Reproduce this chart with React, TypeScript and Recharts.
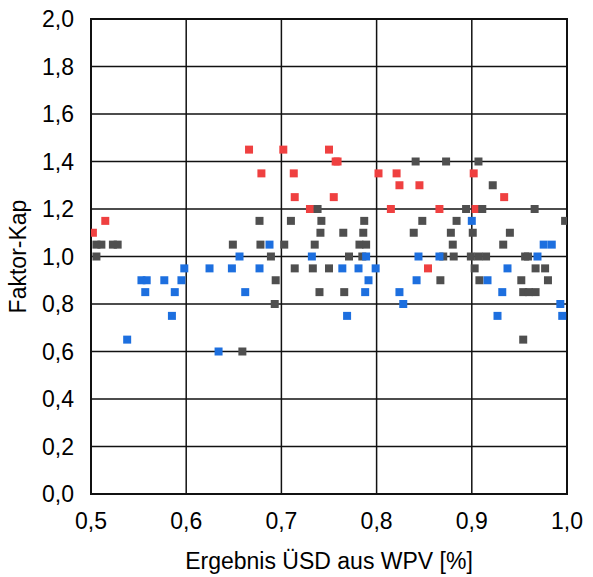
import {
  ScatterChart,
  Scatter,
  XAxis,
  YAxis,
  ZAxis,
  CartesianGrid,
  ReferenceArea,
} from "recharts";

// Faktor-Kap over Ergebnis ÜSD aus WPV, three groups
const redX = [0.502, 0.515, 0.666, 0.702, 0.75, 0.757, 0.759, 0.679, 0.713, 0.802, 0.821, 0.824, 0.845, 0.714, 0.755, 0.934, 0.73, 0.815, 0.866, 0.904, 0.902, 0.854];
const redY = [1.1, 1.15, 1.45, 1.45, 1.45, 1.4, 1.4, 1.35, 1.35, 1.35, 1.35, 1.3, 1.3, 1.25, 1.25, 1.25, 1.2, 1.2, 1.2, 1.2, 1.35, 0.95];

const grayX = [
  0.5057, 0.5109, 0.523, 0.528, 0.5057, 0.649, 0.659, 0.841, 0.873, 0.907, 0.738, 0.677, 0.71, 0.742, 0.787,
  0.741, 0.765, 0.786, 0.839, 0.678, 0.703, 0.735, 0.782, 0.789, 0.689, 0.771, 0.785, 0.714, 0.733, 0.75,
  0.694, 0.74, 0.766, 0.693, 0.922, 0.894, 0.911, 0.966, 0.848, 0.884, 0.998, 0.878, 0.901, 0.94, 0.88,
  0.933, 0.87, 0.881, 0.899, 0.907, 0.915, 0.956, 0.959, 0.903, 0.967, 0.977, 0.867, 0.908, 0.952, 0.98,
  0.954, 0.96, 0.967, 0.954,
];
const grayY = [
  1.05, 1.05, 1.05, 1.05, 1.0, 1.05, 0.6, 1.4, 1.4, 1.4, 1.2, 1.15, 1.15, 1.15, 1.15,
  1.1, 1.1, 1.1, 1.1, 1.05, 1.05, 1.05, 1.05, 1.05, 1.0, 1.0, 1.0, 0.95, 0.95, 0.95,
  0.9, 0.85, 0.85, 0.8, 1.3, 1.2, 1.2, 1.2, 1.15, 1.15, 1.15, 1.1, 1.1, 1.1, 1.05,
  1.05, 1.0, 1.0, 1.0, 1.0, 1.0, 1.0, 1.0, 0.95, 0.95, 0.95, 0.9, 0.9, 0.9, 0.9,
  0.85, 0.85, 0.85, 0.65,
];

const blueX = [
  0.656, 0.598, 0.6245, 0.648, 0.553, 0.5585, 0.577, 0.595, 0.557, 0.588, 0.662, 0.585, 0.538, 0.634,
  0.6875, 0.732, 0.789, 0.844, 0.677, 0.764, 0.781, 0.799, 0.7915, 0.842, 0.788, 0.824, 0.828, 0.769,
  0.9, 0.9755, 0.984, 0.866, 0.969, 0.9375, 0.9165, 0.932, 0.993, 0.927, 0.995,
];
const blueY = [
  1.0, 0.95, 0.95, 0.95, 0.9, 0.9, 0.9, 0.9, 0.85, 0.85, 0.85, 0.75, 0.65, 0.6,
  1.05, 1.0, 1.0, 1.0, 0.95, 0.95, 0.95, 0.95, 0.9, 0.9, 0.85, 0.85, 0.8, 0.75,
  1.15, 1.05, 1.05, 1.0, 1.0, 0.95, 0.9, 0.85, 0.8, 0.75, 0.75,
];

const xTicks = [0.5, 0.6, 0.7, 0.8, 0.9, 1.0];
const yTicks = [0, 0.2, 0.4, 0.6, 0.8, 1.0, 1.2, 1.4, 1.6, 1.8, 2.0];

const toPoints = (xs: number[], ys: number[]) => xs.map((x, i) => ({ x, y: ys[i] }));
const fmt = (v: number) => v.toFixed(1).replace(".", ",");

const font = "'Liberation Sans', Arial, sans-serif";
const tickStyle = { fontSize: 23, fill: "#000", fontFamily: font };

export default function App() {
  return (
    <div style={{ position: "absolute", left: 0, top: 0, width: 593, height: 577, background: "#fff" }}>
      <ScatterChart width={593} height={577} margin={{ top: 19, right: 26, bottom: 0, left: 0 }}>
        <CartesianGrid stroke="#111" strokeWidth={1.5} />
        <XAxis
          type="number"
          dataKey="x"
          domain={[0.5, 1.0]}
          ticks={xTicks}
          allowDataOverflow
          height={83}
          tickFormatter={fmt}
          tick={tickStyle}
          tickLine={false}
          tickSize={0}
          tickMargin={19}
          axisLine={{ stroke: "#111", strokeWidth: 2 }}
          label={{ value: "Ergebnis ÜSD aus WPV [%]", position: "insideBottom", offset: 8, style: { fontSize: 23, fill: "#000", fontFamily: font } }}
        />
        <YAxis
          type="number"
          dataKey="y"
          domain={[0, 2.0]}
          ticks={yTicks}
          allowDataOverflow
          width={91}
          tickFormatter={fmt}
          tick={tickStyle}
          tickLine={false}
          tickSize={0}
          tickMargin={17}
          axisLine={{ stroke: "#111", strokeWidth: 2 }}
          label={{ value: "Faktor-Kap", angle: -90, position: "insideLeft", offset: 18, style: { textAnchor: "middle", fontSize: 23, fill: "#000", fontFamily: font } }}
        />
        <ZAxis range={[81, 81]} />
        <ReferenceArea x1={0.5} x2={1.0} y1={0} y2={2.0} fill="none" stroke="#111" strokeWidth={2} />
        <Scatter data={toPoints(redX, redY)} fill="#EF4040" shape="square" isAnimationActive={false} />
        <Scatter data={toPoints(grayX, grayY)} fill="#4F4F4F" shape="square" isAnimationActive={false} />
        <Scatter data={toPoints(blueX, blueY)} fill="#1D6FDF" shape="square" isAnimationActive={false} />
      </ScatterChart>
    </div>
  );
}
